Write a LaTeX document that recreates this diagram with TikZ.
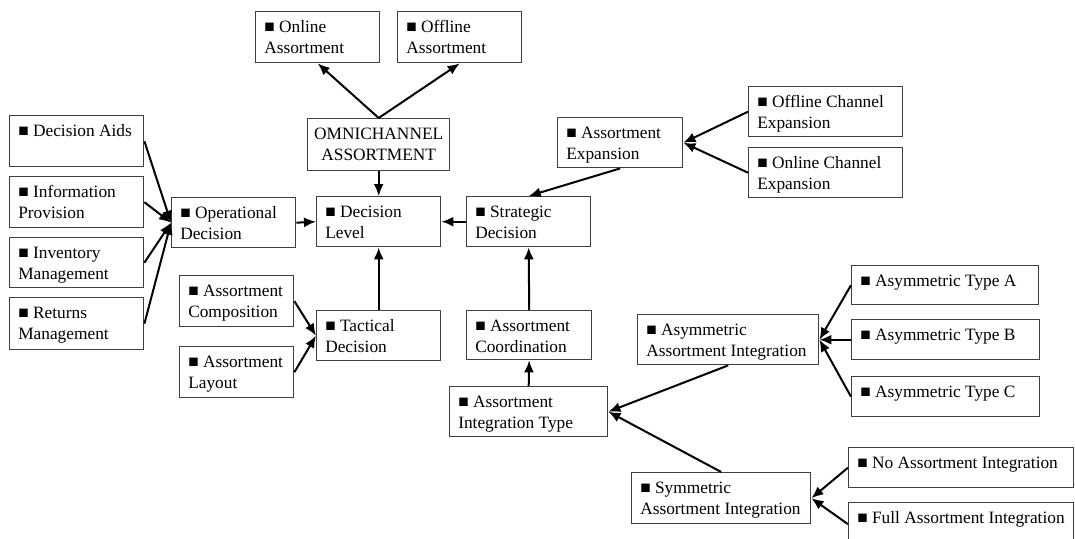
\documentclass[tikz,border=0pt]{standalone}
\usepackage{fontspec}
\setmainfont{Liberation Serif}
\usetikzlibrary{arrows.meta}
% box with its top-left corner at (#2,#3) and bottom-right corner at (#4,#5)
\newcommand\drawbox[6]{%
  \node[box, minimum width={(#4-#2)*0.75pt}, minimum height={(#5-#3)*0.75pt}] (#1) at (#2,#3) {};
  \node[txt] (#1-t) at ([shift={(9,6.5)}]#1.north west) {\strut#6};}
\begin{document}
\begin{tikzpicture}[x=0.75pt,y=-0.75pt,
  box/.style={draw=black!75, line width=1.05pt, inner sep=0pt, anchor=north west},
  txt/.style={inner sep=0pt, anchor=north west, align=left, font=\fontsize{13}{15.75}\selectfont},
  link/.style={line width=1.5pt, -{Latex[length=9pt,width=7.5pt]}}]
\useasboundingbox (0,0) rectangle (1075,539);
\clip (0,0) rectangle (1075,539);

% top
\drawbox{on}{255}{11}{379}{62}{■ Online\\Assortment}
\drawbox{off}{397}{11}{521}{62}{■ Offline\\Assortment}
\node[box, minimum width={142*0.75pt}, minimum height={52*0.75pt}] (omni) at (307,118) {};
\node[txt, anchor=north, align=center] (omni-t) at ([yshift=-6.5*0.75pt]omni.north) {\strut OMNICHANNEL\\ASSORTMENT};

% operational side
\drawbox{da}{9}{115}{143}{166}{■ Decision Aids}
\drawbox{ip}{9}{176}{143}{227}{■ Information\\Provision}
\drawbox{im}{9}{237}{143}{287}{■ Inventory\\Management}
\drawbox{rm}{9}{297}{143}{349}{■ Returns\\Management}
\drawbox{op}{171}{197}{295}{247}{■ Operational\\Decision}

% centre
\drawbox{dl}{316}{196}{440}{246}{■ Decision\\Level}
\drawbox{sd}{466}{196}{590}{246}{■ Strategic\\Decision}
\drawbox{td}{316}{310}{440}{360}{■ Tactical\\Decision}
\drawbox{comp}{179}{275}{293}{326}{■ Assortment\\Composition}
\drawbox{lay}{179}{346}{293}{397}{■ Assortment\\Layout}

% expansion
\drawbox{ae}{557}{117}{682}{167}{■ Assortment\\Expansion}
\drawbox{oce}{748}{86}{902}{136}{■ Offline Channel\\Expansion}
\drawbox{nce}{748}{147}{902}{197}{■ Online Channel\\Expansion}

% coordination
\drawbox{aco}{466}{310}{591}{359}{■ Assortment\\Coordination}
\drawbox{ait}{449}{386}{607}{436}{■ Assortment\\Integration Type}
\drawbox{asym}{637}{314}{818}{364}{■ Asymmetric\\Assortment Integration}
\drawbox{ta}{851}{265}{1038}{304}{■ Asymmetric Type A}
\drawbox{tb}{851}{319}{1039}{359}{■ Asymmetric Type B}
\drawbox{tc}{851}{376}{1039}{416}{■ Asymmetric Type C}
\drawbox{sym}{631}{472}{810}{523}{■ Symmetric\\Assortment Integration}
\drawbox{nai}{848}{447}{1073}{487}{■ No Assortment Integration}
\drawbox{fai}{848}{502}{1073}{545}{■ Full Assortment Integration}

% connectors
\draw[link] (omni.north) -- (on.south);
\draw[link] (omni.north) -- (off.south);
\draw[link] (omni.south) -- (dl.north);
\foreach \s in {da,ip,im,rm} \draw[link] (\s.east) -- (op.west);
\draw[link] (op.east) -- (dl.west);
\draw[link] (sd.west) -- (dl.east);
\draw[link] (td.north) -- (dl.south);
\draw[link] (comp.east) -- (td.west);
\draw[link] (lay.east) -- (td.west);
\draw[link] (ae.south) -- (sd.north);
\draw[link] (oce.west) -- (ae.east);
\draw[link] (nce.west) -- (ae.east);
\draw[link] (aco.north) -- (sd.south);
\draw[link] (ait.north) -- (aco.south);
\draw[link] (asym.south) -- (ait.east);
\draw[link] (sym.north) -- (ait.east);
\foreach \s in {ta,tb,tc} \draw[link] (\s.west) -- (asym.east);
\draw[link] (nai.west) -- (sym.east);
\draw[link] (fai.west) -- (sym.east);
\end{tikzpicture}
\end{document}
